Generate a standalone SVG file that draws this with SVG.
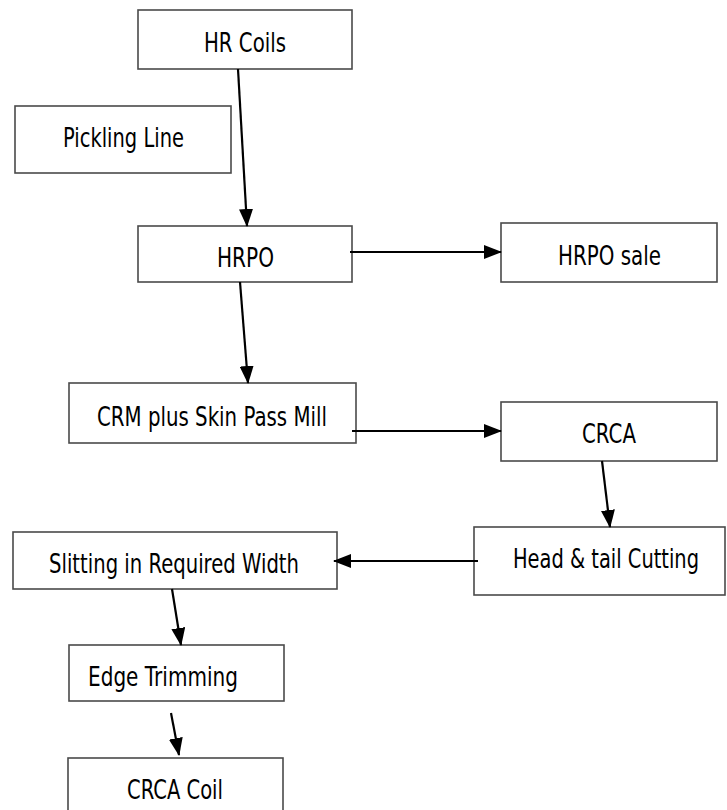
<svg xmlns="http://www.w3.org/2000/svg" width="727" height="810" viewBox="0 0 727 810">
<style>
.box{fill:#fff;stroke:#4a4a4a;stroke-width:1.6}
.lbl{font-family:"DejaVu Sans","Liberation Sans",sans-serif;font-size:27px;fill:#000}
.con{stroke:#000;stroke-width:2.2;fill:none;marker-end:url(#ah)}
</style>
<defs>
<marker id="ah" viewBox="0 0 18 14" refX="17" refY="7" markerWidth="18" markerHeight="14" markerUnits="userSpaceOnUse" orient="auto">
<path d="M0,0 L18,7 L0,14 z" fill="#000"/>
</marker>
</defs>
<rect width="727" height="810" fill="#fff"/>
<g id="hr-coils"><rect class="box" x="138" y="10" width="214" height="59"/><text class="lbl" x="204" y="52" textLength="82" lengthAdjust="spacingAndGlyphs">HR Coils</text></g>
<g id="pickling-line"><rect class="box" x="15" y="106" width="216" height="67"/><text class="lbl" x="63" y="147" textLength="121" lengthAdjust="spacingAndGlyphs">Pickling Line</text></g>
<g id="hrpo"><rect class="box" x="138" y="226" width="214" height="56"/><text class="lbl" x="217" y="267" textLength="57" lengthAdjust="spacingAndGlyphs">HRPO</text></g>
<g id="hrpo-sale"><rect class="box" x="501" y="223" width="216" height="59"/><text class="lbl" x="558" y="265" textLength="103" lengthAdjust="spacingAndGlyphs">HRPO sale</text></g>
<g id="crm"><rect class="box" x="69" y="383" width="287" height="60"/><text class="lbl" x="97" y="426" textLength="230" lengthAdjust="spacingAndGlyphs">CRM plus Skin Pass Mill</text></g>
<g id="crca"><rect class="box" x="501" y="402" width="216" height="59"/><text class="lbl" x="582" y="443" textLength="54" lengthAdjust="spacingAndGlyphs">CRCA</text></g>
<g id="head-tail"><rect class="box" x="474" y="527" width="251" height="68"/><text class="lbl" transform="translate(513 568) scale(1 1.35)" x="0" y="0" style="font-size:20px" textLength="186" lengthAdjust="spacingAndGlyphs">Head &amp; tail Cutting</text></g>
<g id="slitting"><rect class="box" x="13" y="532" width="324" height="57"/><text class="lbl" x="49" y="573" textLength="250" lengthAdjust="spacingAndGlyphs">Slitting in Required Width</text></g>
<g id="edge-trimming"><rect class="box" x="69" y="645" width="215" height="56"/><text class="lbl" x="88" y="686" textLength="150" lengthAdjust="spacingAndGlyphs">Edge Trimming</text></g>
<g id="crca-coil"><rect class="box" x="68" y="758" width="215" height="60"/><text class="lbl" x="127" y="799" textLength="96" lengthAdjust="spacingAndGlyphs">CRCA Coil</text></g>
<g id="connectors">
<line class="con" x1="238" y1="69" x2="247" y2="226"/>
<line class="con" x1="350" y1="252" x2="501" y2="252"/>
<line class="con" x1="240" y1="282" x2="248" y2="383"/>
<line class="con" x1="352" y1="431" x2="501" y2="431"/>
<line class="con" x1="602" y1="461" x2="610" y2="527"/>
<line class="con" x1="478" y1="561" x2="334" y2="561"/>
<line class="con" x1="172" y1="589" x2="181" y2="645"/>
<line class="con" x1="171" y1="713" x2="179" y2="755"/>
</g>
</svg>
